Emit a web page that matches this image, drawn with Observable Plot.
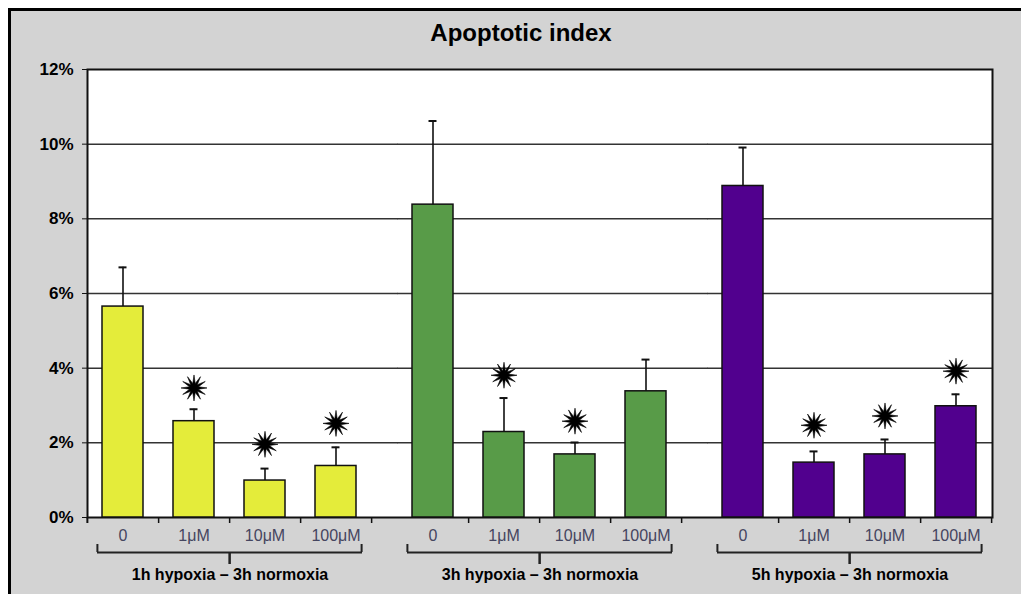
<!DOCTYPE html>
<html>
<head>
<meta charset="utf-8">
<script src="https://cdn.jsdelivr.net/npm/d3@7"></script>
<script src="https://cdn.jsdelivr.net/npm/@observablehq/plot@0.6"></script>
<style>
  body { margin: 0; background: #ffffff; }
  #box {
    position: absolute; left: 8px; top: 8px; width: 1013px; height: 586px;
    box-sizing: border-box; border-top: 3px solid #000; border-left: 3px solid #000;
    background: #d3d3d3; overflow: hidden;
  }
  #title {
    box-sizing: border-box; height: 45px; padding-top: 8px; padding-left: 10px;
    line-height: 37px; text-align: center;
    font: bold 24px "Liberation Sans", Arial, sans-serif; color: #000;
  }
  svg { display: block; }
</style>
</head>
<body>
<div id="box">
  <div id="title">Apoptotic index</div>
  <div id="chart"></div>
</div>
<script>
// ---- data (percent) ----
const groups = ["1h hypoxia – 3h normoxia", "3h hypoxia – 3h normoxia", "5h hypoxia – 3h normoxia"];
const doses = ["0", "1μM", "10μM", "100μM"];
const means1h = [5.65, 2.58, 0.99, 1.38];
const errs1h  = [1.05, 0.32, 0.32, 0.50];
const means3h = [8.38, 2.29, 1.69, 3.38];
const errs3h  = [2.24, 0.91, 0.32, 0.85];
const means5h = [8.88, 1.47, 1.69, 2.98];
const errs5h  = [1.03, 0.30, 0.40, 0.32];
const stars1h = [null, 3.47, 1.96, 2.52];
const stars3h = [null, 3.81, 2.58, null];
const stars5h = [null, 2.47, 2.72, 3.92];
const groupColors = ["#e4ec3a", "#589b48", "#51008e"];
const yTicks = [0, 2, 4, 6, 8, 10, 12];

const means = [means1h, means3h, means5h];
const errs = [errs1h, errs3h, errs5h];
const stars = [stars1h, stars3h, stars5h];

const data = [];
groups.forEach((g, gi) => doses.forEach((d, di) => {
  data.push({group: g, dose: d, value: means[gi][di], hi: means[gi][di] + errs[gi][di], star: stars[gi][di]});
}));
const starData = data.filter(d => d.star != null);
const groupRows = groups.map(g => ({group: g}));
const firstRows = groups.map(g => ({group: g, dose: doses[0]}));
const lastRows = groups.map(g => ({group: g, dose: doses[doses.length - 1]}));
const midRows = groups.map(g => ({group: g, dose: doses[1]}));
const gridRows = groups.flatMap((g, gi) => yTicks.filter(t => t > 0 && t < 12).map(t => ({group: g, gi, t})));

// 12-spike starburst symbol
const starburst = {
  draw(context, size) {
    const R = Math.sqrt(size / Math.PI), r = R * 0.36, n = 12;
    for (let k = 0; k < 2 * n; ++k) {
      const a = (k * Math.PI) / n - Math.PI / 2;
      const rad = k % 2 === 0 ? R : r;
      const px = rad * Math.cos(a), py = rad * Math.sin(a);
      if (k === 0) context.moveTo(px, py); else context.lineTo(px, py);
    }
    context.closePath();
  }
};

const W = 1010, H = 538;
const mL = 75, mR = 29, mT = 13, mB = 77;
const step = 71.25;       // category step within a group (px)
const gap = 25.5;         // gap between groups (px)
const plotH = H - mT - mB;

const chart = Plot.plot({
  width: W, height: H,
  marginLeft: mL, marginRight: mR, marginTop: mT, marginBottom: mB,
  style: {background: "transparent", fontFamily: "'Liberation Sans', Arial, sans-serif", color: "#000"},
  fx: {domain: groups, paddingInner: 0.082, paddingOuter: 0},
  x: {domain: doses, paddingInner: 0.42, paddingOuter: 0.21},
  y: {domain: [0, 12]},
  color: {domain: groups, range: groupColors},
  marks: [
    Plot.frame({facet: "super", fill: "white", stroke: "none"}),
    Plot.ruleY(gridRows.filter(d => d.gi < groups.length - 1), {fx: "group", y: "t", insetRight: -gap, stroke: "#333", strokeWidth: 1.5}),
    Plot.ruleY(gridRows.filter(d => d.gi === groups.length - 1), {fx: "group", y: "t", stroke: "#333", strokeWidth: 1.5}),
    Plot.frame({facet: "super", stroke: "#111", strokeWidth: 2}),
    Plot.barY(data, {fx: "group", x: "dose", y: "value", fill: "group", stroke: "#111", strokeWidth: 1.5}),
    Plot.ruleX(data, {fx: "group", x: "dose", y1: "value", y2: "hi", stroke: "#111", strokeWidth: 1.6}),
    Plot.tickY(data, {fx: "group", x: "dose", y: "hi", stroke: "#111", strokeWidth: 2, insetLeft: 16.5, insetRight: 16.5}),
    Plot.dot(starData, {fx: "group", x: "dose", y: "star", symbol: starburst, r: 13, fill: "#000", stroke: "#000", strokeWidth: 0.6}),
    // category boundary ticks below the axis
    Plot.tickX(data, {fx: "group", x: "dose", dx: step / 2, insetTop: plotH, insetBottom: -6, stroke: "#111", strokeWidth: 1.5}),
    Plot.tickX(firstRows.slice(0, 1), {fx: "group", x: "dose", dx: -step / 2, insetTop: plotH, insetBottom: -6, stroke: "#111", strokeWidth: 2}),
    // brackets
    Plot.ruleY(groupRows, {fx: "group", y: () => 0, dy: 35, insetLeft: 10, insetRight: 10, stroke: "#222", strokeWidth: 2}),
    Plot.tickX(firstRows, {fx: "group", x: "dose", dx: -25.6, insetTop: plotH + 27, insetBottom: -35, stroke: "#222", strokeWidth: 2}),
    Plot.tickX(lastRows, {fx: "group", x: "dose", dx: 25.6, insetTop: plotH + 27, insetBottom: -35, stroke: "#222", strokeWidth: 2}),
    Plot.tickX(midRows, {fx: "group", x: "dose", dx: step / 2, insetTop: plotH + 35, insetBottom: -47, stroke: "#222", strokeWidth: 2.5}),
    // axes
    Plot.axisY({ticks: yTicks, tickFormat: d => d + "%", tickSize: 5, tickPadding: 9, fontSize: 17, fontWeight: "bold", label: null, stroke: "#111"}),
    Plot.axisX({tickSize: 0, tickPadding: 12, fontSize: 16, fill: "#45455f", label: null}),
    Plot.axisFx({anchor: "bottom", tickSize: 0, tickPadding: 51, fontSize: 16, fontWeight: "bold", label: null})
  ]
});
document.getElementById("chart").appendChild(chart);
</script>
</body>
</html>
